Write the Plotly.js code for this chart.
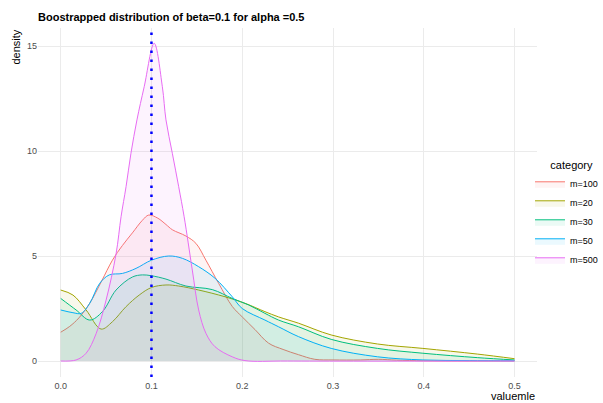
<!DOCTYPE html>
<html>
<head>
<meta charset="utf-8">
<script src="https://cdn.plot.ly/plotly-3.0.1.min.js"></script>
<style>
html,body{margin:0;padding:0;background:#fff;}
#chart{width:603px;height:403px;}
</style>
</head>
<body>
<div id="chart"></div>
<script>
var categories = ["m=100", "m=20", "m=30", "m=50", "m=500"];
var colors = ["#F8766D", "#A3A500", "#00BF7D", "#00B0F6", "#E76BF3"];

var m100_x = [0, 0.01, 0.02, 0.032, 0.045, 0.057, 0.068, 0.079, 0.09, 0.097, 0.107, 0.116, 0.123, 0.138, 0.149, 0.16, 0.174, 0.189, 0.2, 0.214, 0.229, 0.245, 0.262, 0.28, 0.3, 0.33, 0.35, 0.37, 0.4, 0.45, 0.5];
var m100_y = [1.37, 1.65, 2.05, 2.75, 3.8, 4.8, 5.5, 6.1, 6.7, 6.95, 6.8, 6.5, 6.25, 5.95, 5.6, 4.8, 3.7, 2.6, 2.1, 1.5, 0.85, 0.55, 0.3, 0.08, 0.05, 0.05, 0.08, 0.04, 0.01, 0, 0];

var m20_x = [0, 0.0135, 0.028, 0.0445, 0.057, 0.072, 0.0865, 0.1, 0.116, 0.13, 0.152, 0.181, 0.203, 0.225, 0.24, 0.262, 0.298, 0.349, 0.399, 0.459, 0.5];
var m20_y = [3.38, 3.14, 2.43, 1.52, 1.87, 2.59, 3.14, 3.5, 3.62, 3.57, 3.38, 3.06, 2.75, 2.35, 2.1, 1.8, 1.24, 0.81, 0.6, 0.33, 0.11];

var m30_x = [0, 0.017, 0.032, 0.046, 0.061, 0.079, 0.09, 0.1, 0.116, 0.138, 0.167, 0.189, 0.207, 0.225, 0.24, 0.262, 0.298, 0.349, 0.399, 0.459, 0.5];
var m30_y = [2.98, 2.43, 1.95, 2.35, 3.38, 4.0, 4.1, 4.06, 3.9, 3.57, 3.4, 2.98, 2.67, 2.27, 1.95, 1.63, 1.03, 0.6, 0.37, 0.16, 0.05];

var m50_x = [0, 0.0135, 0.0226, 0.032, 0.043, 0.0536, 0.068, 0.083, 0.1, 0.119, 0.134, 0.152, 0.17, 0.189, 0.2, 0.225, 0.24, 0.262, 0.298, 0.349, 0.399, 0.45, 0.5];
var m50_y = [2.43, 2.3, 2.27, 2.75, 3.7, 4.1, 4.17, 4.41, 4.8, 5.0, 4.89, 4.49, 3.94, 3.06, 2.5, 1.95, 1.63, 1.16, 0.6, 0.2, 0.05, 0.02, 0.01];

var m500_x = [0, 0.017, 0.028, 0.039, 0.05, 0.061, 0.0665, 0.072, 0.0774, 0.084, 0.092, 0.103, 0.112, 0.116, 0.123, 0.13, 0.136, 0.145, 0.152, 0.16, 0.17, 0.189, 0.203, 0.25, 0.5];
var m500_y = [0, 0.05, 0.37, 1.3, 2.9, 5.1, 6.87, 8.3, 9.89, 11.48, 13.06, 15.13, 13.06, 11.48, 9.89, 8.3, 6.87, 4.33, 2.43, 1.32, 0.68, 0.2, 0.02, 0, 0];

var xTicks = [0, 0.1, 0.2, 0.3, 0.4, 0.5];
var xTickLabels = ["0.0", "0.1", "0.2", "0.3", "0.4", "0.5"];
var yTicks = [0, 5, 10, 15];
var yTickLabels = ["0", "5", "10", "15"];
var betaTrue = 0.1;

var seriesX = [m100_x, m20_x, m30_x, m50_x, m500_x];
var seriesY = [m100_y, m20_y, m30_y, m50_y, m500_y];

function hexToRgba(h, a) {
  var r = parseInt(h.substr(1,2),16), g = parseInt(h.substr(3,2),16), b = parseInt(h.substr(5,2),16);
  return "rgba(" + r + "," + g + "," + b + "," + a + ")";
}

var traces = categories.map(function(c, i) {
  return {
    type: "scatter", mode: "lines", name: c,
    x: seriesX[i], y: seriesY[i],
    line: {color: colors[i], width: 1, shape: "spline", smoothing: 1},
    fill: "tozeroy", fillcolor: hexToRgba(colors[i], 0.08)
  };
});

// paper spans x 38..603 (565 px); the plot occupies 38..539
var W = 603, L = 38, PW = W - L;
var layout = {
  width: 603, height: 403,
  margin: {l: L, r: 0, t: 28, b: 26},
  paper_bgcolor: "#fff", plot_bgcolor: "#fff",
  font: {family: "Liberation Sans, Arial, sans-serif", color: "#4d4d4d"},
  title: {text: "<b>Boostrapped distribution of beta=0.1 for alpha =0.5</b>",
          font: {size: 11, color: "#000"}, x: 38/603, xanchor: "left", y: 1 - 17/403, yanchor: "middle"},
  xaxis: {domain: [0, 501/PW], range: [-0.025, 0.525], tickvals: xTicks, ticktext: xTickLabels,
          showgrid: true, gridcolor: "#ebebeb", gridwidth: 1, zeroline: false,
          showline: false, ticks: "", tickfont: {size: 9, color: "#4d4d4d"}, ticklabelstandoff: 2},
  yaxis: {range: [-0.762, 15.857], tickvals: yTicks, ticktext: yTickLabels,
          showgrid: true, gridcolor: "#ebebeb", gridwidth: 1, zeroline: false,
          showline: false, ticks: "", tickfont: {size: 9, color: "#4d4d4d"}},
  shapes: [{type: "line", xref: "x", yref: "paper", x0: betaTrue, x1: betaTrue, y0: 0, y1: 1,
            line: {color: "#0000FF", width: 2.5, dash: "2.5px,6.5px"}}],
  annotations: [
    {text: "density", xref: "x domain", yref: "paper", x: 0, xshift: -23, xanchor: "center",
     y: 1, yanchor: "top", textangle: -90, showarrow: false, font: {size: 11, color: "#000"}},
    {text: "valuemle", xref: "x domain", yref: "paper", x: 1, xanchor: "right",
     y: 0, yshift: -19, yanchor: "middle", showarrow: false, font: {size: 11, color: "#000"}}
  ],
  legend: {title: {text: "&nbsp;&nbsp;&nbsp;&nbsp;&nbsp;&nbsp;category", font: {size: 11, color: "#000"}},
           x: (532 - L)/PW, xanchor: "left", y: 1 - (155 - 28)/349, yanchor: "top",
           itemwidth: 30,
           font: {size: 9, color: "#000"}, bgcolor: "rgba(0,0,0,0)", tracegroupgap: 0}
};

Plotly.newPlot("chart", traces, layout, {displayModeBar: false, staticPlot: true});
</script>
</body>
</html>
